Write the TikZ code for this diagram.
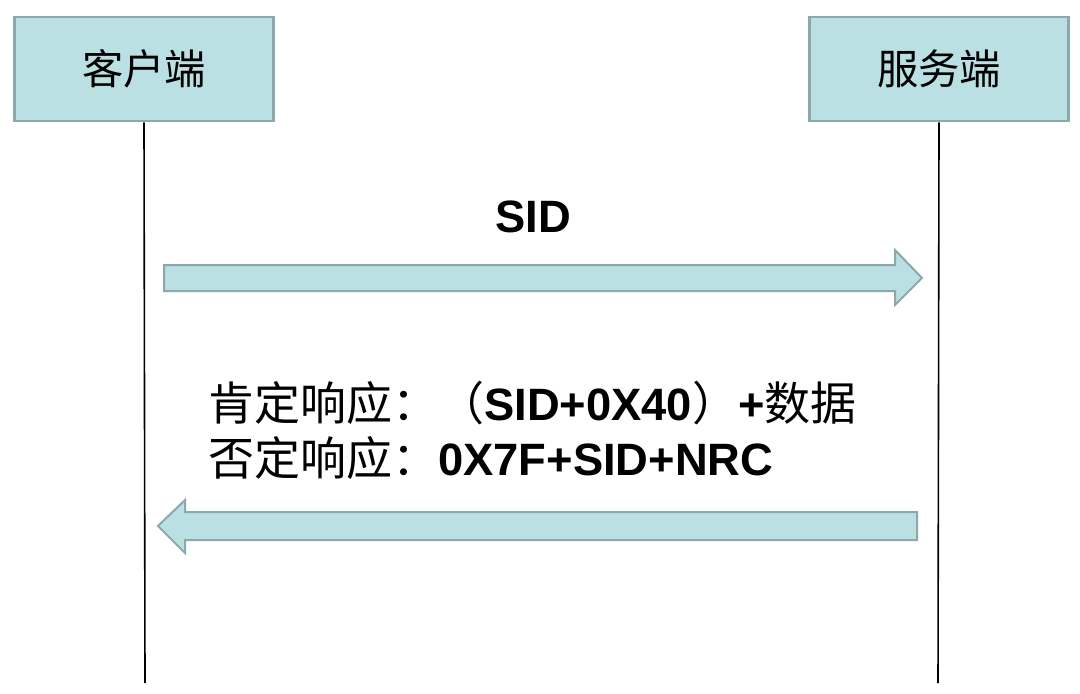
\documentclass[tikz,border=0pt]{standalone}
\usepackage{fontspec}
\setmainfont{Liberation Sans}
\newfontfamily\cjk{Noto Sans CJK SC}
\definecolor{boxfill}{RGB}{187,224,227}
\definecolor{boxline}{RGB}{140,168,170}
\newcommand{\zh}[1]{{\cjk\mdseries\fontsize{34.5}{38}\selectfont #1}}
\begin{document}
\begin{tikzpicture}[x=0.75pt,y=-0.75pt,
  party/.style={draw=boxline,line width=2.2pt,fill=boxfill,minimum width=194pt,minimum height=78pt,inner sep=0pt,font=\cjk\fontsize{31}{36}\selectfont},
  lifeline/.style={line width=1.2pt},
  blockarrow/.style={draw=boxline,line width=1.5pt,fill=boxfill},
  msg/.style={inner sep=0pt,anchor=base west,font=\bfseries\fontsize{34}{38}\selectfont}]
\useasboundingbox (0,0) rectangle (1080,693);
\node[party] (client) at (144,69) {客户端};
\node[party] (server) at (939,69) {服务端};
\coordinate (clientend) at (145,683);
\coordinate (serverend) at (938,683);
\draw[lifeline] (client.south) -- (clientend);
\draw[lifeline] (server.south) -- (serverend);
% request
\draw[blockarrow] (164,265) -- (895,265) -- (895,250) -- (922,278) -- (895,305) -- (895,291) -- (164,291) -- cycle;
\node[msg,anchor=base] (sid) at (533,232) {SID};
% response
\draw[blockarrow] (917,512) -- (185,512) -- (185,500) -- (158,526) -- (185,553) -- (185,540) -- (917,540) -- cycle;
\node[msg] (pos) at (208,420) {\zh{肯定响应：（}SID+0X40\zh{）}+\zh{数据}};
\node[msg] (neg) at (208,475) {\zh{否定响应：}0X7F+SID+NRC};
\end{tikzpicture}
\end{document}
